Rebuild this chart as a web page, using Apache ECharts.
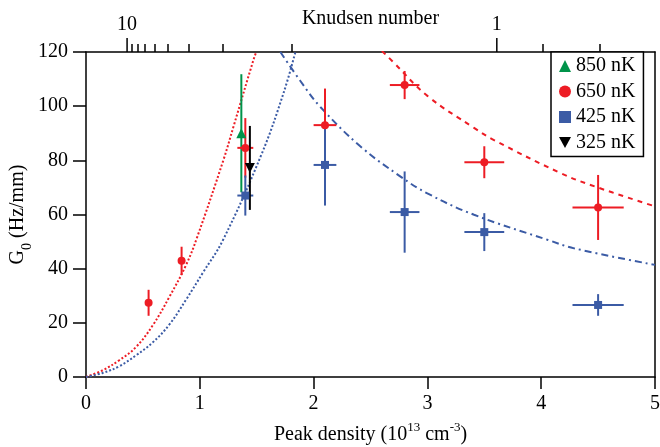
<!DOCTYPE html>
<html><head><meta charset="utf-8">
<script src="https://cdn.jsdelivr.net/npm/echarts@6/dist/echarts.min.js"></script>
<style>html,body{margin:0;padding:0;background:#fff}#c{width:660px;height:447px}</style>
</head><body><div id="c"></div>
<script>
// ---- data ----
const names = ['850 nK', '650 nK', '425 nK', '325 nK'];
// 850 nK
const x850 = [1.365], y850 = [90.0], xe850 = [0], ye850 = [21.8];
// 650 nK
const x650 = [0.55, 0.84, 1.40, 2.10, 2.80, 3.50, 4.50];
const y650 = [27.4, 42.9, 84.6, 93.0, 107.8, 79.3, 62.6];
const xe650 = [0, 0.03, 0.07, 0.10, 0.13, 0.175, 0.225];
const ye650 = [4.8, 5.2, 11.0, 13.5, 5.2, 5.9, 12.0];
// 425 nK
const x425 = [1.40, 2.10, 2.80, 3.50, 4.50];
const y425 = [67.0, 78.3, 60.9, 53.5, 26.6];
const xe425 = [0.07, 0.10, 0.13, 0.175, 0.225];
const ye425 = [7.4, 15.0, 15.0, 7.0, 4.0];
// 325 nK
const x325 = [1.44], y325 = [77.2], xe325 = [0], ye325 = [15.5];

// model curves
const redRiseX = [0, 0.147, 0.293, 0.44, 0.587, 0.733, 0.88, 0.974, 1.209, 1.297, 1.473, 1.496];
const redRiseY = [0, 2.5, 6.2, 11.1, 19.1, 29.6, 41.4, 51.3, 80.3, 92.6, 117.3, 120];
const blueRiseX = [0, 0.147, 0.293, 0.44, 0.587, 0.733, 0.88, 1.027, 1.203, 1.547, 1.737, 1.84];
const blueRiseY = [0, 1.5, 4.0, 8.0, 12.8, 19.4, 28.6, 38.5, 50.5, 82.7, 105, 120];
const redFallX = [2.60, 2.69, 3.0, 3.41, 3.585, 4.17, 4.44, 5.0];
const redFallY = [120.4, 116.7, 103.8, 92.0, 87.5, 75.3, 70.8, 63.0];
const blueFallX = [1.708, 1.884, 2.06, 2.41, 2.764, 3.0, 3.41, 4.06, 4.29, 5.0];
const blueFallY = [120, 109.3, 99.7, 85.2, 74.0, 67.8, 59.9, 50.6, 47.5, 41.4];

// top axis: Knudsen number (Kn = 1 at this peak density)
const densityAtKn1 = 3.61;
const knMajor = [10, 1];
const knMinor = [9, 8, 7, 6, 5, 4, 3, 2, 0.9, 0.8];

// ---- styling ----
const F = 'Liberation Serif';
const RED = '#ed1c24', BLUE = '#3b5ba5', GREEN = '#00934a', BLACK = '#000';
const zip = (a, b) => a.map((v, i) => [v, b[i]]);

function errorBars(xs, ys, xe, ye, color) {
  return {
    type: 'custom', silent: true, z: 3, clip: true,
    encode: {x: 0, y: 1},
    data: xs.map((x, i) => [x, ys[i], xe[i], ye[i]]),
    renderItem(params, api) {
      const x = api.value(0), y = api.value(1), ex = api.value(2), ey = api.value(3);
      const style = {stroke: color, lineWidth: 2};
      const children = [];
      if (ey > 0) {
        const a = api.coord([x, y - ey]), b = api.coord([x, y + ey]);
        children.push({type: 'line', shape: {x1: a[0], y1: a[1], x2: b[0], y2: b[1]}, style});
      }
      if (ex > 0) {
        const a = api.coord([x - ex, y]), b = api.coord([x + ex, y]);
        children.push({type: 'line', shape: {x1: a[0], y1: a[1], x2: b[0], y2: b[1]}, style});
      }
      return {type: 'group', children};
    }
  };
}
function curve(xs, ys, color, dash) {
  return {
    type: 'line', data: zip(xs, ys), showSymbol: false, symbol: 'none',
    smooth: 0.4,
    silent: true, z: 2, clip: true,
    lineStyle: {color, width: 2, type: dash}
  };
}
function marks(name, xs, ys, color, symbol, size) {
  return {
    name, type: 'scatter', data: zip(xs, ys), symbol, symbolSize: size, z: 5,
    itemStyle: {color, opacity: 1}
  };
}
// long (major) ticks of the Knudsen axis, placed via the x scale at the top edge
const MAJOR_LEN = 14;
const topMajorTicks = {
  type: 'custom', silent: true, clip: false, z: 6,
  encode: {x: 0, y: 1},
  data: knMajor.map(k => [densityAtKn1 / k, 120]),
  renderItem(params, api) {
    const p = api.coord([api.value(0), api.value(1)]);
    return {type: 'line', shape: {x1: p[0], y1: p[1], x2: p[0], y2: p[1] - MAJOR_LEN},
      style: {stroke: '#000', lineWidth: 1.5}};
  }
};

const chart = echarts.init(document.getElementById('c'), null, {renderer: 'canvas'});
const axisLine = {show: true, onZero: false, lineStyle: {color: '#000', width: 1.5}};
chart.setOption({
  animation: false,
  backgroundColor: '#fff',
  textStyle: {fontFamily: F},
  grid: {left: 86, right: 5, top: 52, bottom: 70, containLabel: false, outerBoundsMode: 'none'},
  legend: {
    data: names, orient: 'vertical', left: 551, top: 52,
    backgroundColor: '#fff', borderColor: '#000', borderWidth: 1.5, borderRadius: 0,
    padding: [4, 8, 4, 8], itemGap: 5.5, itemWidth: 12, itemHeight: 12, itemTextGap: 13,
    textStyle: {fontFamily: F, fontSize: 20, color: '#000'}, selectedMode: false
  },
  xAxis: [
    {
      type: 'value', position: 'bottom', min: 0, max: 5, interval: 1,
      axisLine, axisTick: {show: true, length: 12, lineStyle: {width: 1.5, color: '#000'}},
      axisLabel: {color: '#000', fontSize: 20, fontFamily: F, margin: 17},
      splitLine: {show: false},
      name: '{a|Peak density (10}{s|13}{a| cm}{s|-3}{a|)}',
      nameLocation: 'middle', nameGap: 44, nameMoveOverlap: false,
      nameTextStyle: {rich: {
        a: {fontFamily: F, fontSize: 20, color: '#000', lineHeight: 24, verticalAlign: 'bottom'},
        s: {fontFamily: F, fontSize: 13, color: '#000', lineHeight: 13, verticalAlign: 'top'}
      }}
    },
    {
      type: 'value', position: 'top', min: 0, max: 5,
      axisLine,
      axisTick: {show: true, length: 8, lineStyle: {width: 1.5, color: '#000'},
        customValues: knMinor.map(k => densityAtKn1 / k)},
      axisLabel: {show: true, color: '#000', fontSize: 20, fontFamily: F, margin: 17,
        customValues: knMajor.map(k => densityAtKn1 / k),
        formatter: v => String(Math.round(densityAtKn1 / v * 100) / 100)},
      splitLine: {show: false},
      name: 'Knudsen number', nameLocation: 'middle', nameGap: 23, nameMoveOverlap: false,
      nameTextStyle: {fontFamily: F, fontSize: 20, color: '#000'}
    }
  ],
  yAxis: [
    {
      type: 'value', min: 0, max: 120, interval: 20,
      axisLine, axisTick: {show: true, length: 13, lineStyle: {width: 1.5, color: '#000'}},
      axisLabel: {color: '#000', fontSize: 20, fontFamily: F, margin: 18},
      splitLine: {show: false},
      name: '{a|G}{s|0}{a| (Hz/mm)}', nameLocation: 'middle', nameGap: 52, nameRotate: 90,
      nameMoveOverlap: false,
      nameTextStyle: {rich: {
        a: {fontFamily: F, fontSize: 20, color: '#000', lineHeight: 26, verticalAlign: 'top'},
        s: {fontFamily: F, fontSize: 14, color: '#000', lineHeight: 14, verticalAlign: 'bottom'}
      }}
    },
    {
      type: 'value', position: 'right', min: 0, max: 120,
      axisLine, axisTick: {show: false}, axisLabel: {show: false}, splitLine: {show: false}
    }
  ],
  series: [
    curve(redRiseX, redRiseY, RED, [2, 2]),
    curve(blueRiseX, blueRiseY, BLUE, [2, 2]),
    curve(redFallX, redFallY, RED, [5, 5]),
    curve(blueFallX, blueFallY, BLUE, [7, 4, 2, 4]),
    errorBars(x850, y850, xe850, ye850, GREEN),
    errorBars(x650, y650, xe650, ye650, RED),
    errorBars(x425, y425, xe425, ye425, BLUE),
    errorBars(x325, y325, xe325, ye325, BLACK),
    topMajorTicks,
    marks('850 nK', x850, y850, GREEN, 'triangle', 10),
    marks('650 nK', x650, y650, RED, 'circle', 8),
    marks('425 nK', x425, y425, BLUE, 'rect', 8),
    marks('325 nK', x325, y325, BLACK, 'path://M0,0 L10,0 L5,9 Z', 10)
  ]
});
</script></body></html>
